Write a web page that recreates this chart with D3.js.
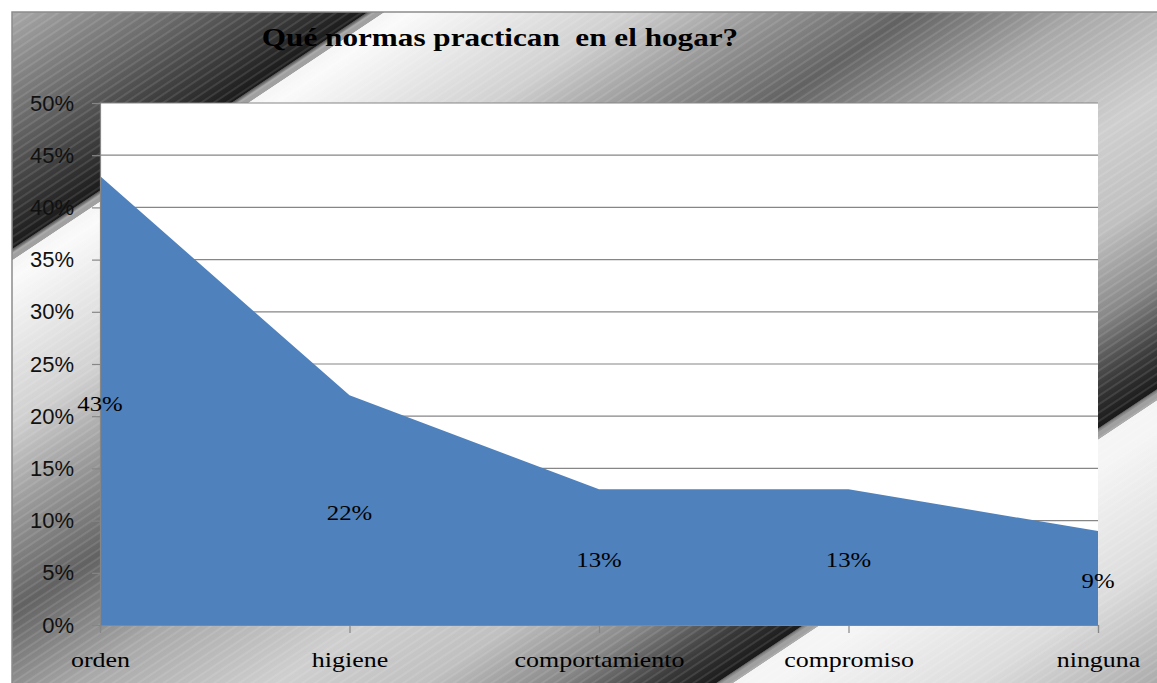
<!DOCTYPE html>
<html>
<head>
<meta charset="utf-8">
<script src="https://cdn.jsdelivr.net/npm/d3@7"></script>
<style>
  body { margin: 0; background: #fff; }
  svg { display: block; }
</style>
</head>
<body>
<script>
// data
const categories = ["orden", "higiene", "comportamiento", "compromiso", "ninguna"];
const percentages = [43, 22, 13, 13, 9];
const yTickValues = [0, 5, 10, 15, 20, 25, 30, 35, 40, 45, 50];
const chartTitle = "Qué normas practican  en el hogar?";

const width = 1157;
const height = 683;
const plot = { left: 100, right: 1098, top: 103, bottom: 625 };
const serif = '"Liberation Serif"';
const sans = '"Liberation Sans"';

const svg = d3.select("body")
    .append("svg")
    .attr("width", width)
    .attr("height", height);

const defs = svg.append("defs");

// metallic diagonal background (position along x + 1.5y)
const tMax = 2250;
const bgStops = [
    [0, "#b4b4b4"], [200, "#6a6a6a"], [330, "#333"], [385, "#1a1a1a"],
    [386, "#555"], [392, "#a0a0a0"], [402, "#a0a0a0"], [403, "#f5f5f5"],
    [430, "#fafafa"], [650, "#d0d0d0"], [780, "#9a9a9a"], [930, "#626262"],
    [1100, "#a8a8a8"], [1300, "#cfcfcf"], [1450, "#c0c0c0"], [1580, "#888"],
    [1680, "#3a3a3a"], [1740, "#1a1a1a"], [1741, "#555"], [1747, "#a0a0a0"],
    [1757, "#a0a0a0"], [1758, "#f5f5f5"], [1800, "#f5f5f5"], [2000, "#dcdcdc"],
    [2250, "#999"]
];
const s = tMax / 3.25;
const grad = defs.append("linearGradient")
    .attr("id", "metal")
    .attr("gradientUnits", "userSpaceOnUse")
    .attr("x1", 0).attr("y1", 0)
    .attr("x2", s).attr("y2", 1.5 * s);
grad.selectAll("stop")
    .data(bgStops)
    .enter()
    .append("stop")
    .attr("offset", d => d[0] / tMax)
    .attr("stop-color", d => d[1]);

const stripes = defs.append("pattern")
    .attr("id", "stripes")
    .attr("patternUnits", "userSpaceOnUse")
    .attr("width", 20).attr("height", 7)
    .attr("patternTransform", "rotate(-33.7)");
stripes.append("rect")
    .attr("width", 20).attr("height", 2)
    .attr("fill", "#fff")
    .attr("opacity", 0.1);

svg.append("rect")
    .attr("x", 12).attr("y", 12)
    .attr("width", width).attr("height", height)
    .attr("fill", "url(#metal)")
    .attr("stroke", "#8c8c8c")
    .attr("stroke-width", 1.5);
svg.append("rect")
    .attr("x", 13).attr("y", 13)
    .attr("width", width).attr("height", height)
    .attr("fill", "url(#stripes)");

// title
svg.append("g")
    .attr("transform", "translate(500,46) scale(1.2,1)")
    .append("text")
    .attr("text-anchor", "middle")
    .attr("xml:space", "preserve")
    .attr("font-family", serif)
    .attr("font-weight", "bold")
    .attr("font-size", 26)
    .attr("fill", "#000")
    .text(chartTitle);

// scales
const x = d3.scalePoint()
    .domain(categories)
    .range([plot.left, plot.right]);

const y = d3.scaleLinear()
    .domain([0, 50])
    .range([plot.bottom, plot.top]);

svg.append("rect")
    .attr("x", plot.left).attr("y", plot.top)
    .attr("width", plot.right - plot.left)
    .attr("height", plot.bottom - plot.top)
    .attr("fill", "#fff");

// gridlines
svg.append("g")
    .selectAll("line")
    .data(yTickValues.filter(d => d > 0))
    .enter()
    .append("line")
    .attr("x1", plot.left).attr("x2", plot.right)
    .attr("y1", d => y(d)).attr("y2", d => y(d))
    .attr("stroke", "#868686")
    .attr("stroke-width", 1.2);

// area
const data = categories.map((c, i) => ({ cat: c, value: percentages[i] }));
const area = d3.area()
    .x(d => x(d.cat))
    .y0(y(0))
    .y1(d => y(d.value));

svg.append("path")
    .datum(data)
    .attr("d", area)
    .attr("fill", "#4f81bd");

// axes
const yAxis = svg.append("g")
    .attr("transform", `translate(${plot.left},0)`)
    .call(d3.axisLeft(y).tickValues(yTickValues).tickFormat(d => d + "%").tickSize(8).tickPadding(18));
yAxis.selectAll("line, path").attr("stroke", "#868686").attr("stroke-width", 1.2);
yAxis.selectAll("text")
    .attr("font-family", sans)
    .attr("font-size", 22)
    .attr("fill", "#111");

const xAxis = svg.append("g")
    .attr("transform", `translate(0,${plot.bottom})`)
    .call(d3.axisBottom(x).tickSize(8).tickPadding(18));
xAxis.selectAll("line, path").attr("stroke", "#868686").attr("stroke-width", 1.2);
xAxis.selectAll("text")
    .attr("font-family", serif)
    .attr("font-size", 22)
    .attr("transform", "scale(1.18,1)")
    .attr("fill", "#000");

// data labels in the middle of each value
svg.append("g")
    .selectAll("text")
    .data(data)
    .enter()
    .append("text")
    .attr("transform", d => `translate(${x(d.cat)},${y(d.value / 2) + 10}) scale(1.18,1)`)
    .attr("text-anchor", "middle")
    .attr("font-family", serif)
    .attr("font-size", 21)
    .attr("fill", "#000")
    .text(d => d.value + "%");
</script>
</body>
</html>
